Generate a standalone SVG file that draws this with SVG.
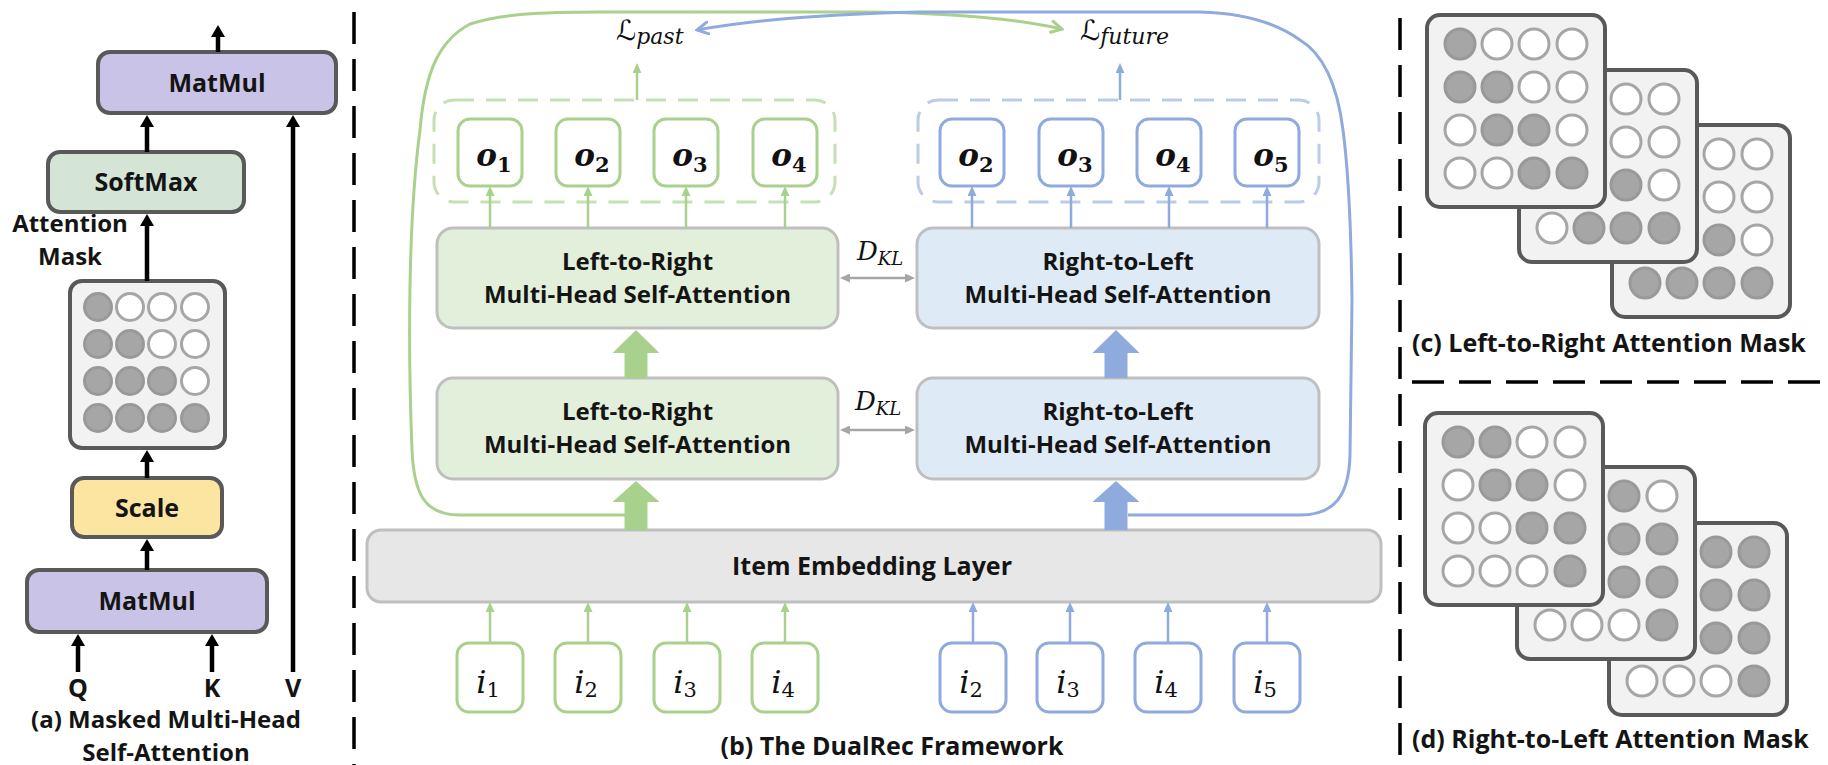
<svg xmlns="http://www.w3.org/2000/svg" width="1828" height="765" viewBox="0 0 1828 765">
<defs>
<style>
.t{font-family:"Open Sans","Noto Sans",sans-serif;font-weight:700;font-size:25px;fill:#141414}
.t2{font-family:"Open Sans","Noto Sans",sans-serif;font-weight:700;font-size:24px;fill:#141414}
.tm{text-anchor:middle}
.ba{stroke:#595959;stroke-width:4}
.mat{fill:#c9c3e7}
.smx{fill:#d4e4d5}
.scl{fill:#fce5a1}
.card{fill:#f2f2f2;stroke:#595959;stroke-width:4}
.cd{fill:#a6a6a6;stroke:#999;stroke-width:3}
.cw{fill:#fff;stroke:#a6a6a6;stroke-width:3}
.blk{stroke:#000;stroke-width:4.5;fill:none}
.gth{stroke:#a9d18e;stroke-width:2.5;fill:none}
.bth{stroke:#8faadc;stroke-width:2.5;fill:none}
.gry{stroke:#a6a6a6;stroke-width:2.5;fill:none}
.gloop{stroke:#a9d18e;stroke-width:3;fill:none}
.bloop{stroke:#8faadc;stroke-width:3;fill:none}
.gdash{stroke:#c5e0b4;stroke-width:3;fill:none;stroke-dasharray:20 12}
.bdash{stroke:#bccbe8;stroke-width:3;fill:none;stroke-dasharray:20 12}
.gbox{fill:#fff;stroke:#a9d18e;stroke-width:3}
.bbox{fill:#fff;stroke:#8faadc;stroke-width:3}
.l2r{fill:#e2efda;stroke:#bfbfbf;stroke-width:3}
.r2l{fill:#deebf7;stroke:#bfbfbf;stroke-width:3}
.emb{fill:#e7e7e7;stroke:#bfbfbf;stroke-width:3}
.sep{stroke:#000;stroke-width:3.5;stroke-dasharray:32 15;fill:none}
.mo{font-family:"DejaVu Serif","Liberation Serif",serif;font-weight:700;font-style:italic;font-size:31px;fill:#111;text-anchor:middle}
.mi{font-family:"DejaVu Serif","Liberation Serif",serif;font-style:italic;font-size:32px;fill:#111;text-anchor:middle}
.sub{font-style:normal;font-size:21px}
.ml{font-family:"DejaVu Serif","DejaVu Sans",serif;font-style:italic;font-size:28px;fill:#111}
.mls{font-size:22px}
.dkl{font-family:"DejaVu Serif","Liberation Serif",serif;font-style:italic;font-size:26px;fill:#111}
.dks{font-size:18px}
</style>
<marker id="ab" viewBox="0 0 12 14" refX="2" refY="7" markerWidth="12" markerHeight="14" markerUnits="userSpaceOnUse" orient="auto"><path d="M0,0 L12,7 L0,14 Z" fill="#000"/></marker>
<marker id="ag" viewBox="0 0 10 9" refX="2" refY="4.5" markerWidth="10" markerHeight="9" markerUnits="userSpaceOnUse" orient="auto"><path d="M0,0 L10,4.5 L0,9 Z" fill="#a9d18e"/></marker>
<marker id="abl" viewBox="0 0 10 9" refX="2" refY="4.5" markerWidth="10" markerHeight="9" markerUnits="userSpaceOnUse" orient="auto"><path d="M0,0 L10,4.5 L0,9 Z" fill="#8faadc"/></marker>
<marker id="agr" viewBox="0 0 10 9" refX="2" refY="4.5" markerWidth="10" markerHeight="9" markerUnits="userSpaceOnUse" orient="auto-start-reverse"><path d="M0,0 L10,4.5 L0,9 Z" fill="#a6a6a6"/></marker>
<marker id="og" viewBox="0 0 14 14" refX="12" refY="7" markerWidth="14" markerHeight="14" markerUnits="userSpaceOnUse" orient="auto"><path d="M1,1 L12,7 L1,13" fill="none" stroke="#a9d18e" stroke-width="3" stroke-linecap="round"/></marker>
<marker id="ob" viewBox="0 0 14 14" refX="12" refY="7" markerWidth="14" markerHeight="14" markerUnits="userSpaceOnUse" orient="auto"><path d="M1,1 L12,7 L1,13" fill="none" stroke="#8faadc" stroke-width="3" stroke-linecap="round"/></marker>
<circle id="D" r="15" class="cd"/>
<circle id="W" r="15" class="cw"/>
<circle id="d" r="13.5" class="cd"/>
<circle id="w" r="13.5" class="cw"/>
</defs>
<rect width="1828" height="765" fill="#fff"/>

<g id="separators">
<line x1="354" y1="12" x2="354" y2="765" class="sep"/>
<line x1="1400" y1="18" x2="1400" y2="765" class="sep"/>
<line x1="1412" y1="382" x2="1828" y2="382" class="sep"/>
</g>

<!-- panel (a) -->
<g id="a-matmul-top"><rect x="98" y="52" width="238" height="61" rx="12" class="ba mat"/><text x="217" y="92" class="t tm">MatMul</text></g>
<g id="a-softmax"><rect x="48" y="152" width="196" height="60" rx="12" class="ba smx"/><text x="146" y="191" class="t tm">SoftMax</text></g>
<g id="a-mask">
<rect x="70" y="281" width="155" height="167" rx="12" class="card"/>
<use href="#d" x="98" y="307"/><use href="#w" x="130" y="307"/><use href="#w" x="162" y="307"/><use href="#w" x="195" y="307"/>
<use href="#d" x="98" y="344"/><use href="#d" x="130" y="344"/><use href="#w" x="162" y="344"/><use href="#w" x="195" y="344"/>
<use href="#d" x="98" y="381"/><use href="#d" x="130" y="381"/><use href="#d" x="162" y="381"/><use href="#w" x="195" y="381"/>
<use href="#d" x="98" y="418"/><use href="#d" x="130" y="418"/><use href="#d" x="162" y="418"/><use href="#d" x="195" y="418"/>
</g>
<g id="a-scale"><rect x="72" y="478" width="150" height="59" rx="12" class="ba scl"/><text x="147" y="517" class="t tm">Scale</text></g>
<g id="a-matmul-bottom"><rect x="27" y="570" width="240" height="62" rx="12" class="ba mat"/><text x="147" y="610" class="t tm">MatMul</text></g>
<g id="a-labels">
<text class="t2 tm"><tspan x="70" y="232">Attention</tspan><tspan x="70" y="265">Mask</tspan></text>
<text x="78" y="697" class="t tm">Q</text>
<text x="212" y="697" class="t tm">K</text>
<text x="293" y="697" class="t tm">V</text>
<text class="t2 tm"><tspan x="166" y="728">(a) Masked Multi-Head</tspan><tspan x="166" y="761">Self-Attention</tspan></text>
</g>

<!-- panel (b) nodes -->
<g id="b-dash-left"><rect x="434" y="100" width="401" height="102" rx="20" class="gdash"/></g>
<g id="b-dash-right"><rect x="918" y="100" width="401" height="102" rx="20" class="bdash"/></g>
<g id="o1"><rect x="458" y="119" width="64" height="67" rx="12" class="gbox"/><text x="494" y="166" class="mo">o<tspan class="sub" dy="6">1</tspan></text></g>
<g id="o2g"><rect x="556" y="119" width="64" height="67" rx="12" class="gbox"/><text x="592" y="166" class="mo">o<tspan class="sub" dy="6">2</tspan></text></g>
<g id="o3g"><rect x="654" y="119" width="64" height="67" rx="12" class="gbox"/><text x="690" y="166" class="mo">o<tspan class="sub" dy="6">3</tspan></text></g>
<g id="o4g"><rect x="753" y="119" width="64" height="67" rx="12" class="gbox"/><text x="789" y="166" class="mo">o<tspan class="sub" dy="6">4</tspan></text></g>
<g id="o2b"><rect x="940" y="119" width="64" height="67" rx="12" class="bbox"/><text x="976" y="166" class="mo">o<tspan class="sub" dy="6">2</tspan></text></g>
<g id="o3b"><rect x="1039" y="119" width="64" height="67" rx="12" class="bbox"/><text x="1075" y="166" class="mo">o<tspan class="sub" dy="6">3</tspan></text></g>
<g id="o4b"><rect x="1137" y="119" width="64" height="67" rx="12" class="bbox"/><text x="1173" y="166" class="mo">o<tspan class="sub" dy="6">4</tspan></text></g>
<g id="o5b"><rect x="1235" y="119" width="64" height="67" rx="12" class="bbox"/><text x="1271" y="166" class="mo">o<tspan class="sub" dy="6">5</tspan></text></g>

<g id="loss-past"><text x="616" y="40" class="ml">ℒ<tspan class="mls" dy="4">past</tspan></text></g>
<g id="loss-future"><text x="1080" y="40" class="ml">ℒ<tspan class="mls" dy="4">future</tspan></text></g>

<g id="l2r-top"><rect x="437" y="228" width="401" height="100" rx="16" class="l2r"/><text class="t2 tm"><tspan x="637.5" y="270">Left-to-Right</tspan><tspan x="637.5" y="303">Multi-Head Self-Attention</tspan></text></g>
<g id="r2l-top"><rect x="917" y="228" width="402" height="100" rx="16" class="r2l"/><text class="t2 tm"><tspan x="1118" y="270">Right-to-Left</tspan><tspan x="1118" y="303">Multi-Head Self-Attention</tspan></text></g>
<g id="l2r-bottom"><rect x="437" y="378" width="401" height="101" rx="16" class="l2r"/><text class="t2 tm"><tspan x="637.5" y="420">Left-to-Right</tspan><tspan x="637.5" y="453">Multi-Head Self-Attention</tspan></text></g>
<g id="r2l-bottom"><rect x="917" y="378" width="402" height="101" rx="16" class="r2l"/><text class="t2 tm"><tspan x="1118" y="420">Right-to-Left</tspan><tspan x="1118" y="453">Multi-Head Self-Attention</tspan></text></g>

<g id="dkl-top"><text x="857" y="260" class="dkl">D<tspan class="dks" dy="5">KL</tspan></text></g>
<g id="dkl-bottom"><text x="855" y="410" class="dkl">D<tspan class="dks" dy="5">KL</tspan></text></g>

<g id="embedding"><rect x="367" y="530" width="1014" height="72" rx="14" class="emb"/><text x="872" y="575" class="t tm">Item Embedding Layer</text></g>

<g id="i1"><rect x="457" y="643" width="66" height="69" rx="12" class="gbox"/><text x="488" y="693" class="mi">i<tspan class="sub" dy="4">1</tspan></text></g>
<g id="i2g"><rect x="555" y="643" width="66" height="69" rx="12" class="gbox"/><text x="586" y="693" class="mi">i<tspan class="sub" dy="4">2</tspan></text></g>
<g id="i3g"><rect x="654" y="643" width="66" height="69" rx="12" class="gbox"/><text x="685" y="693" class="mi">i<tspan class="sub" dy="4">3</tspan></text></g>
<g id="i4g"><rect x="752" y="643" width="66" height="69" rx="12" class="gbox"/><text x="783" y="693" class="mi">i<tspan class="sub" dy="4">4</tspan></text></g>
<g id="i2b"><rect x="940" y="643" width="66" height="69" rx="12" class="bbox"/><text x="971" y="693" class="mi">i<tspan class="sub" dy="4">2</tspan></text></g>
<g id="i3b"><rect x="1037" y="643" width="66" height="69" rx="12" class="bbox"/><text x="1068" y="693" class="mi">i<tspan class="sub" dy="4">3</tspan></text></g>
<g id="i4b"><rect x="1135" y="643" width="66" height="69" rx="12" class="bbox"/><text x="1166" y="693" class="mi">i<tspan class="sub" dy="4">4</tspan></text></g>
<g id="i5b"><rect x="1234" y="643" width="66" height="69" rx="12" class="bbox"/><text x="1265" y="693" class="mi">i<tspan class="sub" dy="4">5</tspan></text></g>

<g id="b-caption"><text x="892" y="755" class="t tm">(b) The DualRec Framework</text></g>

<!-- panel (c) -->
<g id="c-mask-3" transform="translate(1612,125)">
<rect width="178" height="192" rx="13" class="card"/>
<use href="#D" x="33" y="29"/><use href="#W" x="70" y="29"/><use href="#W" x="107" y="29"/><use href="#W" x="145" y="29"/>
<use href="#D" x="33" y="72"/><use href="#D" x="70" y="72"/><use href="#W" x="107" y="72"/><use href="#W" x="145" y="72"/>
<use href="#D" x="33" y="115"/><use href="#D" x="70" y="115"/><use href="#D" x="107" y="115"/><use href="#W" x="145" y="115"/>
<use href="#D" x="33" y="158"/><use href="#D" x="70" y="158"/><use href="#D" x="107" y="158"/><use href="#D" x="145" y="158"/>
</g>
<g id="c-mask-2" transform="translate(1519,70)">
<rect width="178" height="192" rx="13" class="card"/>
<use href="#D" x="33" y="29"/><use href="#W" x="70" y="29"/><use href="#W" x="107" y="29"/><use href="#W" x="145" y="29"/>
<use href="#D" x="33" y="72"/><use href="#D" x="70" y="72"/><use href="#W" x="107" y="72"/><use href="#W" x="145" y="72"/>
<use href="#D" x="33" y="115"/><use href="#D" x="70" y="115"/><use href="#D" x="107" y="115"/><use href="#W" x="145" y="115"/>
<use href="#W" x="33" y="158"/><use href="#D" x="70" y="158"/><use href="#D" x="107" y="158"/><use href="#D" x="145" y="158"/>
</g>
<g id="c-mask-1" transform="translate(1427,15)">
<rect width="178" height="192" rx="13" class="card"/>
<use href="#D" x="33" y="29"/><use href="#W" x="70" y="29"/><use href="#W" x="107" y="29"/><use href="#W" x="145" y="29"/>
<use href="#D" x="33" y="72"/><use href="#D" x="70" y="72"/><use href="#W" x="107" y="72"/><use href="#W" x="145" y="72"/>
<use href="#W" x="33" y="115"/><use href="#D" x="70" y="115"/><use href="#D" x="107" y="115"/><use href="#W" x="145" y="115"/>
<use href="#W" x="33" y="158"/><use href="#W" x="70" y="158"/><use href="#D" x="107" y="158"/><use href="#D" x="145" y="158"/>
</g>
<g id="c-caption"><text x="1412" y="352" class="t">(c) Left-to-Right Attention Mask</text></g>

<!-- panel (d) -->
<g id="d-mask-3" transform="translate(1609,523)">
<rect width="178" height="192" rx="13" class="card"/>
<use href="#D" x="33" y="29"/><use href="#D" x="70" y="29"/><use href="#D" x="107" y="29"/><use href="#D" x="145" y="29"/>
<use href="#W" x="33" y="72"/><use href="#D" x="70" y="72"/><use href="#D" x="107" y="72"/><use href="#D" x="145" y="72"/>
<use href="#W" x="33" y="115"/><use href="#W" x="70" y="115"/><use href="#D" x="107" y="115"/><use href="#D" x="145" y="115"/>
<use href="#W" x="33" y="158"/><use href="#W" x="70" y="158"/><use href="#W" x="107" y="158"/><use href="#D" x="145" y="158"/>
</g>
<g id="d-mask-2" transform="translate(1517,467)">
<rect width="178" height="192" rx="13" class="card"/>
<use href="#D" x="33" y="29"/><use href="#D" x="70" y="29"/><use href="#D" x="107" y="29"/><use href="#W" x="145" y="29"/>
<use href="#W" x="33" y="72"/><use href="#D" x="70" y="72"/><use href="#D" x="107" y="72"/><use href="#D" x="145" y="72"/>
<use href="#W" x="33" y="115"/><use href="#W" x="70" y="115"/><use href="#D" x="107" y="115"/><use href="#D" x="145" y="115"/>
<use href="#W" x="33" y="158"/><use href="#W" x="70" y="158"/><use href="#W" x="107" y="158"/><use href="#D" x="145" y="158"/>
</g>
<g id="d-mask-1" transform="translate(1425,413)">
<rect width="178" height="192" rx="13" class="card"/>
<use href="#D" x="33" y="29"/><use href="#D" x="70" y="29"/><use href="#W" x="107" y="29"/><use href="#W" x="145" y="29"/>
<use href="#W" x="33" y="72"/><use href="#D" x="70" y="72"/><use href="#D" x="107" y="72"/><use href="#W" x="145" y="72"/>
<use href="#W" x="33" y="115"/><use href="#W" x="70" y="115"/><use href="#D" x="107" y="115"/><use href="#D" x="145" y="115"/>
<use href="#W" x="33" y="158"/><use href="#W" x="70" y="158"/><use href="#W" x="107" y="158"/><use href="#D" x="145" y="158"/>
</g>
<g id="d-caption"><text x="1412" y="748" class="t">(d) Right-to-Left Attention Mask</text></g>

<g id="connectors">
<line x1="218" y1="52" x2="218" y2="35" class="blk" marker-end="url(#ab)"/>
<line x1="147" y1="152" x2="147" y2="125" class="blk" marker-end="url(#ab)"/>
<line x1="147" y1="281" x2="147" y2="224" class="blk" marker-end="url(#ab)"/>
<line x1="147" y1="478" x2="147" y2="460" class="blk" marker-end="url(#ab)"/>
<line x1="147" y1="570" x2="147" y2="549" class="blk" marker-end="url(#ab)"/>
<line x1="78" y1="672" x2="78" y2="644" class="blk" marker-end="url(#ab)"/>
<line x1="212" y1="672" x2="212" y2="644" class="blk" marker-end="url(#ab)"/>
<line x1="293" y1="672" x2="293" y2="125" class="blk" marker-end="url(#ab)"/>

<path d="M625,515 L460,515 C425,515 414,495 412,450 C408,350 408,220 420,130 C425,70 440,40 470,24 C500,14 540,12 600,12 L860,12 Q990,13 1062,29" class="gloop" marker-end="url(#og)"/>
<path d="M1128,515 L1300,515 C1335,515 1349,495 1350,455 L1352,300 C1351,220 1347,160 1343,130 C1338,90 1325,55 1300,40 C1275,22 1240,13 1200,12 L920,12 Q780,15 697,30" class="bloop" marker-end="url(#ob)"/>

<line x1="637" y1="100" x2="637" y2="71" class="gth" marker-end="url(#ag)"/>
<line x1="1120" y1="100" x2="1120" y2="71" class="bth" marker-end="url(#abl)"/>

<line x1="490" y1="228" x2="490" y2="194" class="gth" marker-end="url(#ag)"/>
<line x1="588" y1="228" x2="588" y2="194" class="gth" marker-end="url(#ag)"/>
<line x1="686" y1="228" x2="686" y2="194" class="gth" marker-end="url(#ag)"/>
<line x1="785" y1="228" x2="785" y2="194" class="gth" marker-end="url(#ag)"/>
<line x1="972" y1="228" x2="972" y2="194" class="bth" marker-end="url(#abl)"/>
<line x1="1071" y1="228" x2="1071" y2="194" class="bth" marker-end="url(#abl)"/>
<line x1="1169" y1="228" x2="1169" y2="194" class="bth" marker-end="url(#abl)"/>
<line x1="1267" y1="228" x2="1267" y2="194" class="bth" marker-end="url(#abl)"/>

<line x1="848" y1="278" x2="907" y2="278" class="gry" marker-start="url(#agr)" marker-end="url(#agr)"/>
<line x1="848" y1="430" x2="907" y2="430" class="gry" marker-start="url(#agr)" marker-end="url(#agr)"/>

<polygon points="624.5,378 624.5,353 612.5,353 636,330 659.5,353 647.5,353 647.5,378" fill="#a9d18e"/>
<polygon points="624.5,530 624.5,502 612.5,502 636,481 659.5,502 647.5,502 647.5,530" fill="#a9d18e"/>
<polygon points="1104.5,378 1104.5,353 1092.5,353 1116,330 1139.5,353 1127.5,353 1127.5,378" fill="#8faadc"/>
<polygon points="1104.5,530 1104.5,502 1092.5,502 1116,481 1139.5,502 1127.5,502 1127.5,530" fill="#8faadc"/>

<line x1="490" y1="643" x2="490" y2="610" class="gth" marker-end="url(#ag)"/>
<line x1="588" y1="643" x2="588" y2="610" class="gth" marker-end="url(#ag)"/>
<line x1="687" y1="643" x2="687" y2="610" class="gth" marker-end="url(#ag)"/>
<line x1="785" y1="643" x2="785" y2="610" class="gth" marker-end="url(#ag)"/>
<line x1="973" y1="643" x2="973" y2="610" class="bth" marker-end="url(#abl)"/>
<line x1="1070" y1="643" x2="1070" y2="610" class="bth" marker-end="url(#abl)"/>
<line x1="1168" y1="643" x2="1168" y2="610" class="bth" marker-end="url(#abl)"/>
<line x1="1267" y1="643" x2="1267" y2="610" class="bth" marker-end="url(#abl)"/>
</g>
</svg>
